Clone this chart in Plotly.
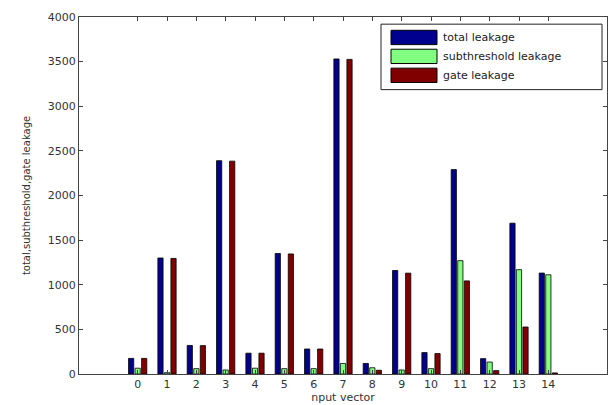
import plotly.graph_objects as go

vectors = list(range(15))
tick_labels = [str(v) for v in vectors]
series_names = ["total leakage", "subthreshold leakage", "gate leakage"]
series_colors = ["#00008f", "#80ff80", "#800000"]
total_leakage = [175, 1300, 320, 2390, 233, 1350, 280, 3530, 118, 1160, 240, 2290, 172, 1690, 1131]
sub_leakage = [65, 15, 60, 45, 65, 60, 60, 118, 70, 45, 60, 1270, 134, 1169, 1112]
gate_leakage = [175, 1295, 318, 2385, 233, 1345, 280, 3525, 42, 1130, 229, 1043, 38, 527, 12]

fig = go.Figure()
for name, color, vals in zip(series_names, series_colors, [total_leakage, sub_leakage, gate_leakage]):
    fig.add_trace(go.Bar(x=vectors, y=vals, name=name, showlegend=False,
                         marker=dict(color=color, line=dict(color="#000000", width=0.8))))

# manual MATLAB-style legend (plot area: 528 x 349 px, left 79, bottom 366 in window)
W, H = 528.0, 349.0
def px(x):
    return (x - 79) / W
def py(y):
    return (366 - y) / H

shapes = [dict(type="rect", xref="paper", yref="paper",
               x0=px(381), x1=px(602), y0=py(88), y1=py(24),
               line=dict(color="#222222", width=1), fillcolor="white", layer="above")]
annotations = []
for i, (name, color) in enumerate(zip(series_names, series_colors)):
    cy = 37 + i * 18.5
    shapes.append(dict(type="rect", xref="paper", yref="paper",
                       x0=px(391), x1=px(437), y0=py(cy + 7), y1=py(cy - 7),
                       line=dict(color="#000000", width=1), fillcolor=color, layer="above"))
    annotations.append(dict(xref="paper", yref="paper", x=px(441), y=py(cy),
                            xanchor="left", yanchor="middle", showarrow=False,
                            text=name, font=dict(size=11, color="#222222")))

# page body has an 8px default margin, so the figure is sized 8px smaller
fig.update_layout(
    width=608, height=397,
    margin=dict(l=71, r=9, t=9, b=31),
    paper_bgcolor="white", plot_bgcolor="white",
    barmode="group", bargap=0.333, bargroupgap=0.2,
    font=dict(family="DejaVu Sans", size=11, color="#333333"),
    showlegend=False,
    shapes=shapes, annotations=annotations,
)
fig.update_xaxes(
    range=[-2, 16], tickmode="array", tickvals=vectors, ticktext=tick_labels,
    ticks="inside", ticklen=4, tickcolor="#444444",
    showline=True, linecolor="#444444", linewidth=1, mirror="allticks",
    showgrid=False, zeroline=False, automargin=False,
    title=dict(text="nput vector", standoff=0, font=dict(size=11)),
    tickfont=dict(size=11),
)
fig.update_yaxes(
    range=[0, 4000], tickvals=list(range(0, 4001, 500)),
    ticks="inside", ticklen=4, tickcolor="#444444",
    showline=True, linecolor="#444444", linewidth=1, mirror="allticks",
    showgrid=False, zeroline=False, automargin=False,
    title=dict(text="total,subthreshold,gate leakage", font=dict(size=10)),
    tickfont=dict(size=11),
)

fig.write_html("out.html")
